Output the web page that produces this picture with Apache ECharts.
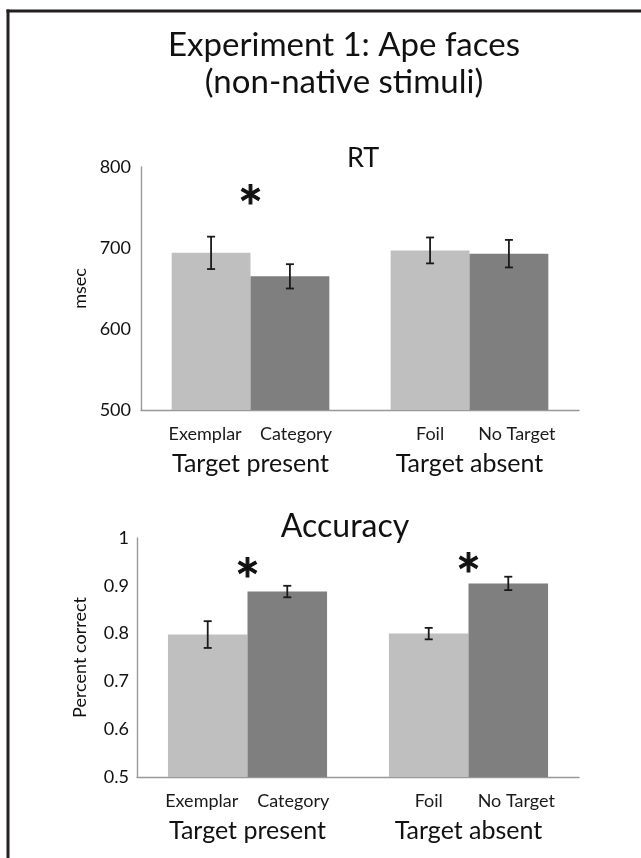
<!DOCTYPE html>
<html>
<head>
<meta charset="utf-8">
<script src="https://cdn.jsdelivr.net/npm/echarts@6/dist/echarts.min.js"></script>
<style>
html,body{margin:0;padding:0;background:#fff;}
#chart{width:641px;height:858px;}
</style>
</head>
<body>
<div id="chart"></div>
<script>
// ---- data ----
const groups = ['Target present', 'Target absent'];
const lightNames = ['Exemplar', 'Foil'];
const darkNames = ['Category', 'No Target'];

const rtLight = [694, 697];
const rtLightErr = [20, 16];
const rtDark = [665, 693];
const rtDarkErr = [15, 17];

const accLight = [0.798, 0.800];
const accLightErr = [0.028, 0.012];
const accDark = [0.888, 0.905];
const accDarkErr = [0.012, 0.014];

// significance markers: [group index, y value]
const rtStars = [[0, 762]];
const accStars = [[0, 0.933], [1, 0.942]];

const rtTicks = {min: 500, max: 800, interval: 100};
const accTicks = {min: 0.5, max: 1, interval: 0.1};

const FONT = 'Lato';
const LIGHT = '#bfbfbf';
const DARK = '#7f7f7f';
const GAP = 0.28;
const STAR_SIZE = 60;

function errRender(side) {
  return function (params, api) {
    const cat = api.value(0), v = api.value(1), e = api.value(2);
    const c = api.coord([cat, v]);
    const band = api.size([1, 0])[0];
    const bw = band * (1 - GAP) / 2;
    const x = c[0] + side * bw / 2;
    const hi = api.coord([cat, v + e])[1];
    const lo = api.coord([cat, v - e])[1];
    const cap = 4;
    const st = {stroke: '#1a1a1a', lineWidth: 1.8};
    return {type: 'group', children: [
      {type: 'line', shape: {x1: x, y1: hi, x2: x, y2: lo}, style: st},
      {type: 'line', shape: {x1: x - cap, y1: hi, x2: x + cap, y2: hi}, style: st},
      {type: 'line', shape: {x1: x - cap, y1: lo, x2: x + cap, y2: lo}, style: st}
    ]};
  };
}
function starRender(params, api) {
  const c = api.coord([api.value(0), api.value(1)]);
  return {type: 'text', style: {text: '*', x: c[0], y: c[1] + STAR_SIZE * 0.22, fill: '#111',
    stroke: '#111', lineWidth: 1.2,
    font: STAR_SIZE + 'px ' + FONT, textAlign: 'center', textVerticalAlign: 'middle'}};
}

function barSeries(ax, data, names, color, shifts) {
  return {
    type: 'bar', xAxisIndex: ax, yAxisIndex: ax,
    data: data.map((v, i) => ({value: v, label: {offset: [shifts[i], 0]}})),
    barGap: 0, barCategoryGap: (GAP * 100) + '%',
    itemStyle: {color: color},
    label: {show: true, position: 'bottom', distance: 15, color: '#1a1a1a',
      fontFamily: FONT, fontSize: 18,
      formatter: p => names[p.dataIndex]},
    silent: true
  };
}
function errSeries(ax, vals, errs, side) {
  return {type: 'custom', xAxisIndex: ax, yAxisIndex: ax, renderItem: errRender(side),
    data: vals.map((v, i) => [i, v, errs[i]]), z: 5, silent: true};
}
function starSeries(ax, stars) {
  return {type: 'custom', xAxisIndex: ax, yAxisIndex: ax, renderItem: starRender,
    data: stars, z: 6, silent: true, clip: false};
}

const axisLineStyle = {color: '#999', width: 1.4};
function xAxis(grid) {
  return {type: 'category', gridIndex: grid, data: groups,
    axisLine: {lineStyle: axisLineStyle}, axisTick: {show: false},
    axisLabel: {color: '#111', fontFamily: FONT, fontSize: 25, margin: 41}};
}
function yAxis(grid, t, name, nameGap, margin) {
  return {type: 'value', gridIndex: grid, min: t.min, max: t.max, interval: t.interval,
    axisLine: {show: true, lineStyle: axisLineStyle}, axisTick: {show: false},
    splitLine: {show: false},
    axisLabel: {color: '#111', fontFamily: FONT, fontSize: 18, margin: margin},
    name: name, nameLocation: 'middle', nameRotate: 90, nameGap: nameGap,
    nameMoveOverlap: false,
    nameTextStyle: {color: '#111', fontFamily: FONT, fontSize: 18}};
}

const LIGHT_SHIFT = [-6, 0];
const DARK_SHIFT = [6, 8];

const chart = echarts.init(document.getElementById('chart'), null, {renderer: 'canvas'});
chart.setOption({
  backgroundColor: '#fff',
  animation: false,
  title: [
    {text: 'Experiment 1: Ape faces\n(non-native stimuli)', left: 339, top: 22, textAlign: 'center',
      textStyle: {fontFamily: FONT, fontSize: 33, fontWeight: 'normal', color: '#111', lineHeight: 37}},
    {text: 'RT', left: 358, top: 140, textAlign: 'center',
      textStyle: {fontFamily: FONT, fontSize: 27, fontWeight: 'normal', color: '#111'}},
    {text: 'Accuracy', left: 340, top: 506, textAlign: 'center',
      textStyle: {fontFamily: FONT, fontSize: 32, fontWeight: 'normal', color: '#111'}}
  ],
  grid: [
    {left: 141, right: 62, top: 167, bottom: 448},
    {left: 137, right: 62, top: 538, bottom: 81}
  ],
  xAxis: [xAxis(0), xAxis(1)],
  yAxis: [yAxis(0, rtTicks, 'msec', 52, 10), yAxis(1, accTicks, 'Percent correct', 48, 8)],
  series: [
    barSeries(0, rtLight, lightNames, LIGHT, LIGHT_SHIFT),
    barSeries(0, rtDark, darkNames, DARK, DARK_SHIFT),
    errSeries(0, rtLight, rtLightErr, -1),
    errSeries(0, rtDark, rtDarkErr, 1),
    starSeries(0, rtStars),
    barSeries(1, accLight, lightNames, LIGHT, LIGHT_SHIFT),
    barSeries(1, accDark, darkNames, DARK, DARK_SHIFT),
    errSeries(1, accLight, accLightErr, -1),
    errSeries(1, accDark, accDarkErr, 1),
    starSeries(1, accStars)
  ],
  graphic: [
    {type: 'line', shape: {x1: 6.5, y1: 11, x2: 641, y2: 11}, style: {stroke: '#231f20', lineWidth: 3}},
    {type: 'line', shape: {x1: 8, y1: 9.5, x2: 8, y2: 858}, style: {stroke: '#231f20', lineWidth: 3}}
  ]
});
</script>
</body>
</html>
